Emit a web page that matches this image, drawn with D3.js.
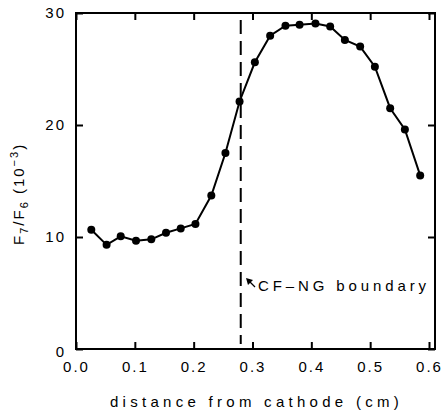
<!DOCTYPE html>
<html>
<head>
<meta charset="utf-8">
<script src="https://cdn.jsdelivr.net/npm/d3@7"></script>
<style>
  body { margin: 0; background: #fff; }
</style>
</head>
<body>
<div id="chart"></div>
<script>
// ============== Data ==============
const distance = [0.026, 0.052, 0.076, 0.102, 0.128, 0.153, 0.178, 0.203, 0.230, 0.254, 0.278, 0.304,
  0.330, 0.356, 0.380, 0.407, 0.432, 0.457, 0.483, 0.508, 0.534, 0.559, 0.585];
const ratio = [10.65, 9.3, 10.06, 9.67, 9.79, 10.38, 10.77, 11.16, 13.7, 17.5, 22.1, 25.6,
  27.97, 28.87, 28.96, 29.07, 28.8, 27.6, 27.0, 25.2, 21.5, 19.6, 15.5];
const xTicks = [0, 0.1, 0.2, 0.3, 0.4, 0.5, 0.6];
const yTicks = [0, 10, 20, 30];
const boundary = 0.28;

const width = 445, height = 413;
const plotLeft = 76, plotRight = 435, plotTop = 13, plotBottom = 349;
const font = '"Liberation Sans", Arial, sans-serif';

const svg = d3.select('#chart')
  .append('svg')
  .attr('width', width)
  .attr('height', height);

// ============== Scales ==============
const x = d3.scaleLinear().domain([0, 0.6]).range([plotLeft, 429]);
const y = d3.scaleLinear().domain([0, 30]).range([plotBottom, plotTop]);

// ============== Frame (filled ring, 2px) ==============
svg.append('path')
  .attr('class', 'frame')
  .attr('fill', 'black')
  .attr('fill-rule', 'evenodd')
  .attr('d', `M${plotLeft - 1},${plotTop - 1}H${plotRight + 1}V${plotBottom + 1}H${plotLeft - 1}Z` +
    `M${plotLeft + 1},${plotTop + 1}V${plotBottom - 1}H${plotRight - 1}V${plotTop + 1}Z`);

// ============== Axes ==============
const xAxis = svg.append('g')
  .attr('transform', `translate(0,${plotBottom})`)
  .call(d3.axisBottom(x).tickValues(xTicks).tickFormat(d3.format('.1f'))
    .tickSizeInner(-7).tickSizeOuter(0).tickPadding(12));

svg.append('g')
  .attr('transform', `translate(0,${plotTop})`)
  .call(d3.axisTop(x).tickValues(xTicks).tickFormat(() => '')
    .tickSizeInner(-7).tickSizeOuter(0));

const yAxis = svg.append('g')
  .attr('transform', `translate(${plotLeft},0)`)
  .call(d3.axisLeft(y).tickValues(yTicks).tickFormat(d3.format('d'))
    .tickSizeInner(-7).tickSizeOuter(0).tickPadding(10));

svg.append('g')
  .attr('transform', `translate(${plotRight},0)`)
  .call(d3.axisRight(y).tickValues(yTicks).tickFormat(() => '')
    .tickSizeInner(-7).tickSizeOuter(0));

svg.selectAll('.domain').remove();
svg.selectAll('.tick line')
  .attr('stroke', 'black')
  .attr('stroke-width', 2)
  .attr('stroke-dasharray', '50,50');
svg.selectAll('.tick text')
  .attr('font-size', 15)
  .attr('font-family', font)
  .style('letter-spacing', '2px');

yAxis.selectAll('.tick text').filter(d => d === 0).attr('dy', '0.5em');

// ============== Boundary ==============
svg.append('line')
  .attr('x1', x(boundary))
  .attr('x2', x(boundary))
  .attr('y1', 20)
  .attr('y2', 344)
  .attr('stroke', 'black')
  .attr('stroke-width', 2)
  .attr('stroke-dasharray', '14,7');

// small arrow pointing at the boundary
svg.append('path')
  .attr('d', 'M255,287 L249,281')
  .attr('stroke', 'black')
  .attr('stroke-width', 1.3);
svg.append('path')
  .attr('d', 'M246,278 L253,280 L248,285 Z')
  .attr('fill', 'black');

// ============== Line ==============
const points = distance.map((d, i) => [d, ratio[i]]);

svg.append('path')
  .datum(points)
  .attr('fill', 'none')
  .attr('stroke', 'black')
  .attr('stroke-width', 2)
  .attr('d', d3.line().x(d => x(d[0])).y(d => y(d[1])));

svg.selectAll('.dot')
  .data(points)
  .enter()
  .append('circle')
  .attr('class', 'dot')
  .attr('cx', d => x(d[0]))
  .attr('cy', d => y(d[1]))
  .attr('r', 4)
  .attr('fill', 'black');

// ============== Titles ==============
// spread a label out to a given width with letter-spacing
function spread(text, target) {
  const n = text.text().length;
  const w = text.node().getComputedTextLength();
  text.style('letter-spacing', Math.max(0, (target - w) / n) + 'px');
}

svg.append('text')
  .text('CF\u2013NG boundary')
  .attr('x', 258)
  .attr('y', 291)
  .attr('font-size', 15)
  .attr('font-family', font)
  .call(spread, 172);

svg.append('text')
  .text('distance from cathode (cm)')
  .attr('x', 110)
  .attr('y', 407)
  .attr('font-size', 15)
  .attr('font-family', font)
  .call(spread, 293);

const yTitle = svg.append('text')
  .attr('transform', 'translate(24,245) rotate(-90)')
  .attr('font-size', 15)
  .attr('font-family', font)
  .style('letter-spacing', '2px');
yTitle.append('tspan').text('F');
yTitle.append('tspan').text('7').attr('font-size', 11).attr('dy', 4);
yTitle.append('tspan').text('/F').attr('dy', -4);
yTitle.append('tspan').text('6').attr('font-size', 11).attr('dy', 4);
yTitle.append('tspan').text(' (10').attr('dy', -4);
yTitle.append('tspan').text('\u22123').attr('font-size', 11).attr('dy', -6);
yTitle.append('tspan').text(')').attr('dy', 6);
</script>
</body>
</html>
